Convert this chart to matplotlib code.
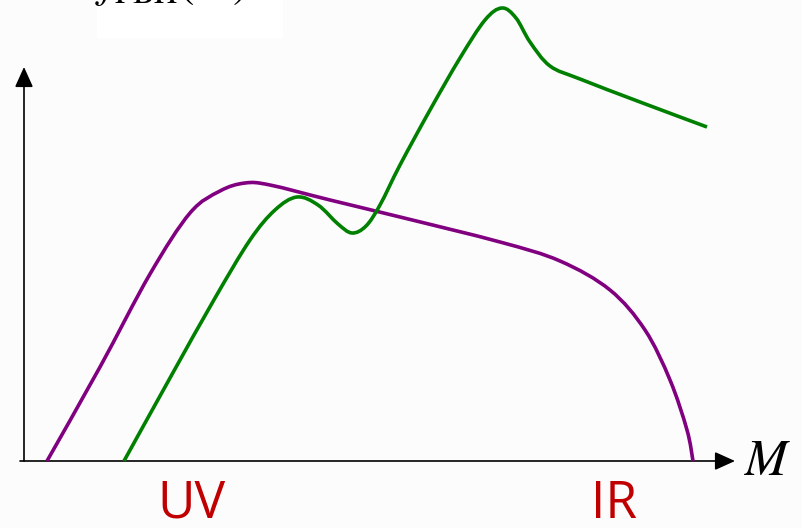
import matplotlib
matplotlib.use("Agg")
from matplotlib import pyplot as plt
from matplotlib.path import Path
from matplotlib.patches import PathPatch, Rectangle
import numpy as np

plt.rcParams['mathtext.fontset'] = 'stix'

# mass axis (arbitrary units) and f_PBH shape for the two spectra
purple_m = [23, 76, 126, 166, 196, 221, 246, 306, 376, 476, 536, 586, 621,
            646, 663, 669]
purple_f = [0, 94, 187, 248, 270, 278, 276, 261, 244, 219, 200, 171, 131,
            81, 31, 0]

green_m = [100, 146, 191, 226, 251, 273, 294, 314, 328, 342, 356, 376, 406,
           436, 461, 478, 492, 506, 526, 556, 616, 683]
green_f = [0, 83, 163, 221, 251, 264, 256, 237, 228, 235, 256, 296, 351,
           403, 441, 453, 443, 419, 395, 382, 359, 334]


def smooth_path(xs, ys):
    # Catmull-Rom through the points, written as cubic Bezier segments
    pts = np.column_stack([xs, ys]).astype(float)
    verts = [pts[0]]
    codes = [Path.MOVETO]
    n = len(pts)
    for i in range(n - 1):
        p0 = pts[max(i - 1, 0)]
        p1 = pts[i]
        p2 = pts[i + 1]
        p3 = pts[min(i + 2, n - 1)]
        c1 = p1 + (p2 - p0) / 6.0
        c2 = p2 - (p3 - p1) / 6.0
        verts += [c1, c2, p2]
        codes += [Path.CURVE4] * 3
    return Path(verts, codes)


fig = plt.figure(figsize=(8.02, 5.28), dpi=100, facecolor='#fcfcfc')
ax = fig.add_axes([0, 0, 1, 1])
ax.set_xlim(-24, 778)
ax.set_ylim(-67, 461)
ax.axis('off')

# white box behind the y label
ax.add_patch(Rectangle((73, 423), 186, 40, facecolor='white', edgecolor='none', zorder=0))

ax.add_patch(PathPatch(smooth_path(purple_m, purple_f), facecolor='none',
                       edgecolor='#800080', lw=2.6, capstyle='butt', zorder=3))
ax.add_patch(PathPatch(smooth_path(green_m, green_f), facecolor='none',
                       edgecolor='#008000', lw=2.6, capstyle='butt', zorder=3))

# axes as arrows
arrow = dict(arrowstyle='-|>,head_length=0.62,head_width=0.28', mutation_scale=20,
             lw=1.2, color='black', shrinkA=0, shrinkB=0)
ax.annotate('', xy=(711, 0), xytext=(-4, 0), arrowprops=arrow, zorder=2)
ax.annotate('', xy=(0, 394), xytext=(0, 0), arrowprops=arrow, zorder=2)

ax.text(720, 0, r'$M$', fontsize=37, ha='left', va='center')
fig.text(95 / 802, 1 + 3 / 528, r'$f_{\rm PBH}(M)$', fontsize=33,
         ha='left', va='baseline')

ax.text(191 - 24, 461 - 504, 'UV', color='#c00000', fontsize=37,
        family='Open Sans', ha='center', va='center')
ax.text(614 - 24, 461 - 504, 'IR', color='#c00000', fontsize=37,
        family='Open Sans', ha='center', va='center')

plt.savefig('out.png', dpi=100, facecolor=fig.get_facecolor())
